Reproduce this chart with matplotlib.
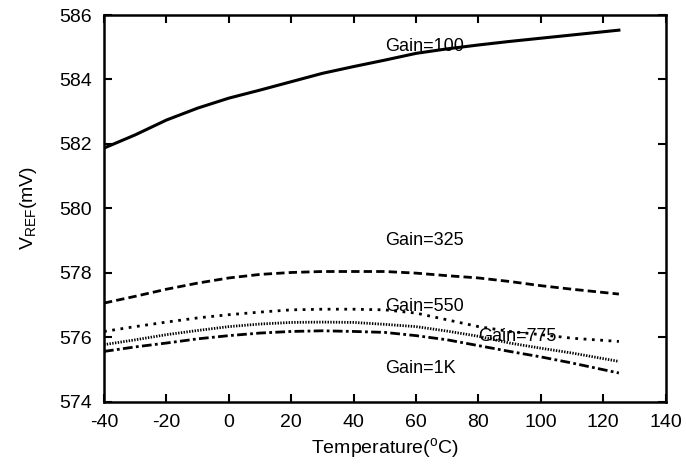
import numpy as np
import matplotlib.pyplot as plt

plt.rcParams['font.family'] = ['Liberation Sans', 'DejaVu Sans']
plt.rcParams['mathtext.fontset'] = 'custom'
plt.rcParams['mathtext.rm'] = 'Liberation Sans'
plt.rcParams['axes.unicode_minus'] = False

# temperature points
temp = [-40, -30, -20, -10, 0, 10, 20, 30, 40, 50, 60, 70, 80, 90, 100, 110, 125]

# reference voltage (mV) for each gain
gain_100 = [581.87, 582.28, 582.74, 583.11, 583.42, 583.67, 583.93, 584.19, 584.40,
            584.60, 584.81, 584.95, 585.07, 585.18, 585.28, 585.38, 585.53]
gain_325 = [577.06, 577.27, 577.49, 577.68, 577.84, 577.95, 578.01, 578.04, 578.04,
            578.04, 577.99, 577.91, 577.84, 577.73, 577.60, 577.49, 577.34]
gain_550 = [576.18, 576.33, 576.47, 576.60, 576.70, 576.78, 576.85, 576.87, 576.87,
            576.85, 576.75, 576.54, 576.33, 576.18, 576.08, 575.97, 575.87]
gain_775 = [575.77, 575.92, 576.08, 576.21, 576.33, 576.41, 576.46, 576.47, 576.46,
            576.40, 576.33, 576.19, 576.03, 575.82, 575.66, 575.51, 575.25]
gain_1k = [575.56, 575.70, 575.82, 575.95, 576.05, 576.13, 576.18, 576.20, 576.18,
           576.15, 576.05, 575.92, 575.74, 575.56, 575.39, 575.20, 574.89]

xticks = [-40, -20, 0, 20, 40, 60, 80, 100, 120, 140]
yticks = [574, 576, 578, 580, 582, 584, 586]

fig = plt.figure(figsize=(6.86, 4.66), dpi=100)
ax = fig.add_axes([0.1516, 0.138, 0.8188, 0.8298])

ax.plot(temp, gain_100, color='black', lw=2.2, ls='-')
ax.plot(temp, gain_325, color='black', lw=2.0, ls=(0, (3, 1.5)))
ax.plot(temp, gain_550, color='black', lw=2.0, ls=(0, (1, 2)))
ax.plot(temp, gain_775, color='black', lw=2.0, ls=(0, (0.5, 0.5)))
ax.plot(temp, gain_1k, color='black', lw=2.0, ls=(0, (3.5, 1.2, 1, 1.2)))

# curve labels
ax.text(50, 585.02, 'Gain=100', fontsize=13, va='center')
ax.text(50, 579.0, 'Gain=325', fontsize=13, va='center')
ax.text(50, 576.96, 'Gain=550', fontsize=13, va='center')
ax.text(80, 576.03, 'Gain=775', fontsize=13, va='center')
ax.text(50, 575.04, 'Gain=1K', fontsize=13, va='center')

ax.set_xlim(-40, 140)
ax.set_ylim(574, 586)
ax.set_xticks(xticks)
ax.set_yticks(yticks)
ax.tick_params(direction='in', length=6, width=1.5, top=True, right=True,
               labelsize=14, pad=9)
for s in ax.spines.values():
    s.set_linewidth(1.8)

ax.set_xlabel(r'Temperature($^{\mathrm{o}}$C)', fontsize=14, labelpad=4)
ax.set_ylabel(r'V$_{\mathrm{REF}}$(mV)', fontsize=14, labelpad=14)

fig.savefig('out.png', dpi=100)
